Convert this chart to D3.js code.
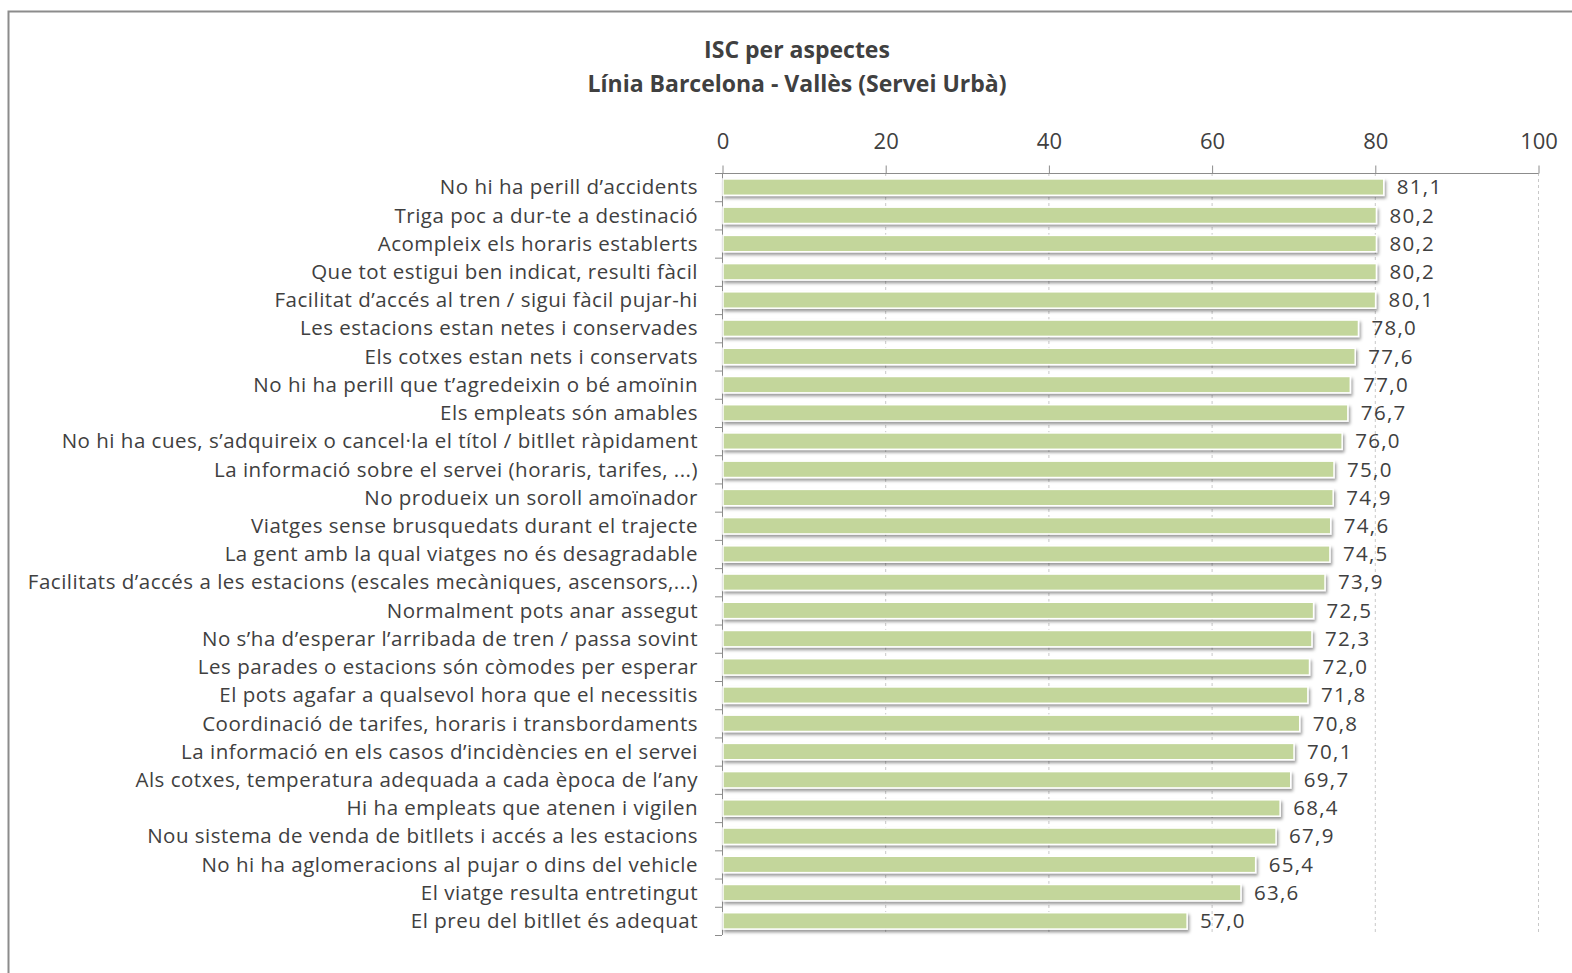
<!DOCTYPE html>
<html>
<head>
<meta charset="utf-8">
<script src="https://cdn.jsdelivr.net/npm/d3@7"></script>
<style>
  html, body { margin: 0; padding: 0; background: #fff; }
  svg { display: block; }
  text { font-family: "Open Sans", "Noto Sans", sans-serif; fill: #404040; }
</style>
</head>
<body>
<svg id="chart" width="1572" height="973"></svg>
<script>
// Aspects evaluated, top to bottom
const categories = [
  "No hi ha perill d’accidents",
  "Triga poc a dur-te a destinació",
  "Acompleix els horaris establerts",
  "Que tot estigui ben indicat, resulti fàcil",
  "Facilitat d’accés al tren / sigui fàcil pujar-hi",
  "Les estacions estan netes i conservades",
  "Els cotxes estan nets i conservats",
  "No hi ha perill que t’agredeixin o bé amoïnin",
  "Els empleats són amables",
  "No hi ha cues, s’adquireix o cancel·la el títol / bitllet ràpidament",
  "La informació sobre el servei (horaris, tarifes, ...)",
  "No produeix un soroll amoïnador",
  "Viatges sense brusquedats durant el trajecte",
  "La gent amb la qual viatges no és desagradable",
  "Facilitats d’accés a les estacions (escales mecàniques, ascensors,...)",
  "Normalment pots anar assegut",
  "No s’ha d’esperar l’arribada de tren / passa sovint",
  "Les parades o estacions són còmodes per esperar",
  "El pots agafar a qualsevol hora que el necessitis",
  "Coordinació de tarifes, horaris i transbordaments",
  "La informació en els casos d’incidències en el servei",
  "Als cotxes, temperatura adequada a cada època de l’any",
  "Hi ha empleats que atenen i vigilen",
  "Nou sistema de venda de bitllets i accés a les estacions",
  "No hi ha aglomeracions al pujar o dins del vehicle",
  "El viatge resulta entretingut",
  "El preu del bitllet és adequat"
];

// ISC score per aspect
const values = [
  81.1, 80.2, 80.2, 80.2, 80.1, 78.0, 77.6, 77.0, 76.7, 76.0,
  75.0, 74.9, 74.6, 74.5, 73.9, 72.5, 72.3, 72.0, 71.8, 70.8,
  70.1, 69.7, 68.4, 67.9, 65.4, 63.6, 57.0
];

const xTicks = [0, 20, 40, 60, 80, 100];
const titleLines = ["ISC per aspectes", "Línia Barcelona - Vallès (Servei Urbà)"];

const data = categories.map((c, i) => ({ cat: c, val: values[i] }));

const svg = d3.select("#chart");

// Outer frame (top and left edges visible)
svg.append("rect")
  .attr("x", 8.5).attr("y", 11.5)
  .attr("width", 1600).attr("height", 1000)
  .attr("fill", "none")
  .attr("stroke", "#8c8c8c")
  .attr("stroke-width", 2);

// Shadow filter for bars
const defs = svg.append("defs");
const f = defs.append("filter").attr("id", "shadow")
  .attr("x", "-5%").attr("y", "-40%").attr("width", "110%").attr("height", "200%");
f.append("feDropShadow")
  .attr("dx", 1.5).attr("dy", 2.5).attr("stdDeviation", 1.6)
  .attr("flood-color", "#000").attr("flood-opacity", 0.4);

// Title
svg.append("g").selectAll("text")
  .data(titleLines)
  .join("text")
  .attr("x", 797)
  .attr("y", (d, i) => 58 + i * 34)
  .attr("text-anchor", "middle")
  .attr("font-size", 23)
  .attr("font-weight", "bold")
  .text(d => d);

const plotL = 722, plotR = 1538, plotT = 173, plotB = 935;

const x = d3.scaleLinear().domain([0, 100]).range([plotL, plotR]);
const y = d3.scaleBand().domain(categories).range([plotT, plotB]).paddingInner(0.42).paddingOuter(0.21);

// Dashed vertical gridlines
svg.append("g").selectAll("line")
  .data(xTicks.filter(t => t > 0))
  .join("line")
  .attr("x1", d => x(d) + 0.5).attr("x2", d => x(d) + 0.5)
  .attr("y1", plotT).attr("y2", plotB)
  .attr("stroke", "#c8c8c8")
  .attr("stroke-dasharray", "3,3");

// Top axis
const xAxis = svg.append("g")
  .attr("transform", `translate(0.5,${plotT + 0.5})`)
  .call(d3.axisTop(x).tickValues(xTicks).tickSize(8).tickPadding(17).tickFormat(d3.format("d")));
xAxis.select(".domain").attr("stroke", "#8c8c8c").attr("d", `M${plotL},0H${plotR}`);
xAxis.selectAll(".tick line").attr("stroke", "#8c8c8c").attr("y2", -8);
xAxis.selectAll(".tick text").attr("font-size", 22).attr("fill", "#404040")
  .attr("font-family", "\"Open Sans\", sans-serif");

// Left axis line with category separator ticks
const yAxisG = svg.append("g");
yAxisG.append("line")
  .attr("x1", plotL + 0.5).attr("x2", plotL + 0.5)
  .attr("y1", plotT).attr("y2", plotB)
  .attr("stroke", "#8c8c8c");
const step = y.step();
yAxisG.selectAll("line.sep")
  .data(d3.range(categories.length + 1))
  .join("line")
  .attr("class", "sep")
  .attr("x1", plotL - 7).attr("x2", plotL)
  .attr("y1", i => plotT + i * step + 0.5)
  .attr("y2", i => plotT + i * step + 0.5)
  .attr("stroke", "#8c8c8c");

// Category labels
svg.append("g").selectAll("text")
  .data(data)
  .join("text")
  .attr("x", plotL - 24)
  .attr("y", d => y(d.cat) + y.bandwidth() / 2)
  .attr("dy", "0.35em")
  .attr("text-anchor", "end")
  .attr("font-size", 20.5)
  .attr("letter-spacing", 0.5)
  .text(d => d.cat);

// Bars
svg.append("g").selectAll("rect")
  .data(data)
  .join("rect")
  .attr("x", x(0) + 1)
  .attr("y", d => y(d.cat))
  .attr("width", d => x(d.val) - x(0) - 1)
  .attr("height", y.bandwidth())
  .attr("fill", "#c3d69b")
  .attr("stroke", "#ffffff")
  .attr("stroke-width", 1.5)
  .attr("filter", "url(#shadow)");

// Value labels
const fmt = d3.formatLocale({ decimal: ",", thousands: ".", grouping: [3], currency: ["", "€"] }).format(".1f");
svg.append("g").selectAll("text")
  .data(data)
  .join("text")
  .attr("x", d => x(d.val) + 13)
  .attr("y", d => y(d.cat) + y.bandwidth() / 2)
  .attr("dy", "0.35em")
  .attr("font-size", 20.5)
  .attr("letter-spacing", 1.3)
  .text(d => fmt(d.val));
</script>
</body>
</html>
